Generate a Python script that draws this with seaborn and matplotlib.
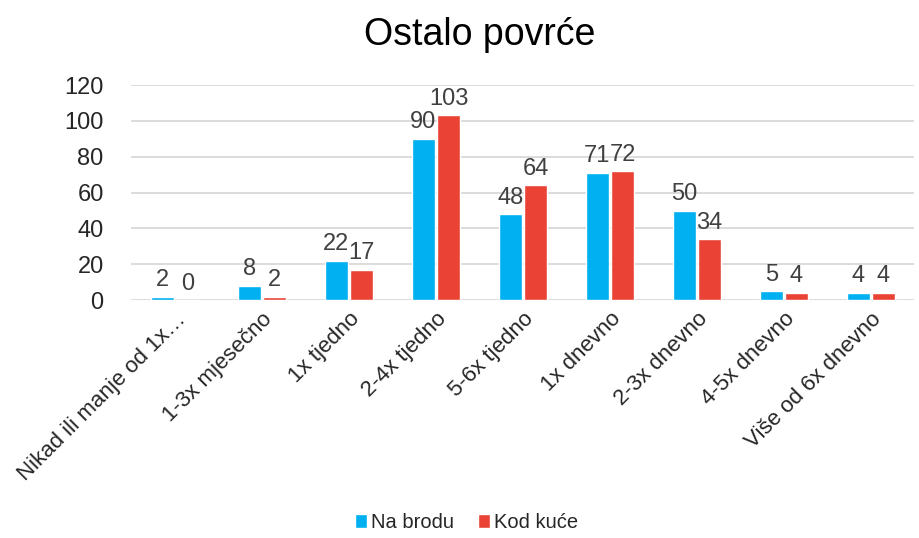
import matplotlib
matplotlib.use("Agg")
import matplotlib.pyplot as plt
import seaborn as sns
import pandas as pd

categories = ["Nikad ili manje od 1x…", "1-3x mjesečno", "1x tjedno", "2-4x tjedno",
              "5-6x tjedno", "1x dnevno", "2-3x dnevno", "4-5x dnevno", "Više od 6x dnevno"]
na_brodu = [2, 8, 22, 90, 48, 71, 50, 5, 4]
kod_kuce = [0, 2, 17, 103, 64, 72, 34, 4, 4]
series = ["Na brodu", "Kod kuće"]
colors = ["#00B0F0", "#EA4335"]
title = "Ostalo povrće"

df = pd.DataFrame({
    "cat": categories * 2,
    "val": na_brodu + kod_kuce,
    "ser": [series[0]] * len(categories) + [series[1]] * len(categories),
})

sns.set_theme(style="white")
plt.rcParams['font.family'] = ['Liberation Sans', 'DejaVu Sans']

fig = plt.figure(figsize=(9.19, 5.38), dpi=100)
ax = fig.add_axes([0.143, 0.442, 0.852, 0.400])

sns.barplot(data=df, x="cat", y="val", hue="ser", palette=colors, width=0.58,
            gap=0.08, ax=ax, saturation=1, legend=True)

ax.set_ylim(0, 120)
ax.set_yticks(range(0, 121, 20))
ax.yaxis.grid(True, color="#D9D9D9", linewidth=1.3)
ax.set_axisbelow(True)
for s in ax.spines.values():
    s.set_visible(False)
ax.tick_params(axis="both", length=0)
ax.tick_params(axis="y", labelsize=17, colors="#262626", pad=20)
ax.set_xlabel("")
ax.set_ylabel("")
ax.set_xticks(range(len(categories)))
ax.set_xticklabels(categories, rotation=45, ha="right", rotation_mode="anchor",
                   fontsize=16, color="#262626")
ax.tick_params(axis="x", pad=6)

for cont in ax.containers:
    ax.bar_label(cont, fontsize=17, color="#404040", padding=4)

fig.text(0.522, 0.935, title, fontsize=27, color="#000000", ha="center", va="center")

h, l = ax.get_legend_handles_labels()
ax.legend_.remove()
fig.legend(h, l, loc="lower center", bbox_to_anchor=(0.508, -0.022), ncol=2, frameon=False,
           fontsize=14.5, handlelength=0.6, handleheight=0.7, handletextpad=0.2,
           columnspacing=1.2)

fig.savefig("out.png", dpi=100)
